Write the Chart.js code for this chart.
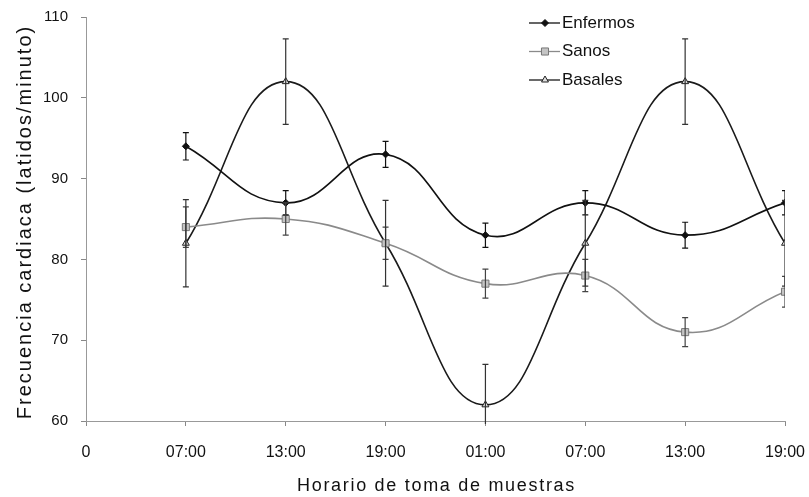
<!DOCTYPE html>
<html lang="es">
<head>
    <meta charset="UTF-8">
    <title>Frecuencia cardiaca</title>
    <script src="https://cdn.jsdelivr.net/npm/chart.js"></script>
    <style>
        html, body { margin: 0; padding: 0; background: #fff; }
        .chart-box { width: 809px; height: 497px; }
    </style>
</head>
<body>
    <div class="chart-box"><canvas id="hrChart"></canvas></div>

    <script>
        const xTickLabels = ['0', '07:00', '13:00', '19:00', '01:00', '07:00', '13:00', '19:00'];
        const seriesNames = ['Enfermos', 'Sanos', 'Basales'];
        const xTitle = 'Horario de toma de muestras';
        const yTitle = 'Frecuencia cardiaca (latidos/minuto)';

        const enfermos = [94, 87, 93, 83, 87, 83, 87];
        const enfermosErr = [1.7, 1.5, 1.6, 1.5, 1.5, 1.6, 1.5];
        const sanos = [84, 85, 82, 77, 78, 71, 76];
        const sanosErr = [2.5, 2, 2, 1.8, 2, 1.8, 1.9];
        const basales = [82, 102, 82, 62, 82, 102, 82];
        const basalesErr = [5.4, 5.3, 5.3, 5, 5.3, 5.3, 5.3];

        const FONT = '"Liberation Sans", Arial, sans-serif';
        Chart.defaults.font.family = FONT;

        const toPoints = values => values.map((v, i) => ({ x: i + 1, y: v }));

        // vertical error bars with small caps
        const errorBars = {
            id: 'errorBars',
            afterDatasetsDraw(chart) {
                const { ctx, chartArea, scales: { y } } = chart;
                ctx.save();
                ctx.beginPath();
                ctx.rect(chartArea.left, chartArea.top - 2, chartArea.width, chartArea.height + 5);
                ctx.clip();
                chart.data.datasets.forEach((ds, i) => {
                    const meta = chart.getDatasetMeta(i);
                    ctx.strokeStyle = ds.errColor;
                    ctx.lineWidth = 1.2;
                    meta.data.forEach((pt, j) => {
                        const v = ds.data[j].y, e = ds.errors[j];
                        const top = y.getPixelForValue(v + e);
                        const bot = y.getPixelForValue(v - e);
                        ctx.beginPath();
                        ctx.moveTo(pt.x, top); ctx.lineTo(pt.x, bot);
                        ctx.moveTo(pt.x - 3, top); ctx.lineTo(pt.x + 3, top);
                        ctx.moveTo(pt.x - 3, bot); ctx.lineTo(pt.x + 3, bot);
                        ctx.stroke();
                    });
                });
                ctx.restore();
            }
        };

        // legend (line + marker) and the spaced-out axis titles
        const decorations = {
            id: 'decorations',
            afterDraw(chart) {
                const { ctx, chartArea } = chart;
                ctx.save();
                chart.data.datasets.forEach((ds, i) => {
                    const yy = 23 + i * 28.5;
                    ctx.strokeStyle = ds.borderColor;
                    ctx.lineWidth = 1.3;
                    ctx.beginPath();
                    ctx.moveTo(529, yy);
                    ctx.lineTo(560, yy);
                    ctx.stroke();
                    ctx.fillStyle = ds.pointBackgroundColor;
                    ctx.strokeStyle = ds.pointBorderColor;
                    ctx.lineWidth = 1;
                    Chart.helpers.drawPoint(ctx, { pointStyle: ds.pointStyle, radius: ds.pointRadius, borderWidth: 1, rotation: 0 }, 545, yy);
                    ctx.fillStyle = '#111';
                    ctx.font = '17px ' + FONT;
                    ctx.textBaseline = 'middle';
                    ctx.fillText(ds.label, 562, yy);
                });

                ctx.fillStyle = '#111';
                ctx.textAlign = 'center';
                ctx.textBaseline = 'middle';

                ctx.font = '18px ' + FONT;
                ctx.letterSpacing = '1.7px';
                ctx.fillText(xTitle, (chartArea.left + chartArea.right) / 2 + 1, 486);

                ctx.font = '20px ' + FONT;
                ctx.letterSpacing = '2px';
                ctx.translate(25, (chartArea.top + chartArea.bottom) / 2 + 3);
                ctx.rotate(-Math.PI / 2);
                ctx.fillText(yTitle, 0, 0);
                ctx.restore();
            }
        };

        new Chart(document.getElementById('hrChart'), {
            type: 'line',
            data: {
                datasets: [
                    {
                        label: seriesNames[0],
                        data: toPoints(enfermos),
                        errors: enfermosErr,
                        errColor: '#111',
                        borderColor: '#111',
                        borderWidth: 1.6,
                        tension: 0.45,
                        pointStyle: 'rectRot',
                        pointRadius: 3.5,
                        pointBackgroundColor: '#111',
                        pointBorderColor: '#111',
                        pointBorderWidth: 1
                    },
                    {
                        label: seriesNames[1],
                        data: toPoints(sanos),
                        errors: sanosErr,
                        errColor: '#444',
                        borderColor: '#8a8a8a',
                        borderWidth: 1.6,
                        tension: 0.45,
                        pointStyle: 'rect',
                        pointRadius: 5,
                        pointBackgroundColor: '#c4c4c4',
                        pointBorderColor: '#777',
                        pointBorderWidth: 1
                    },
                    {
                        label: seriesNames[2],
                        data: toPoints(basales),
                        errors: basalesErr,
                        errColor: '#333',
                        borderColor: '#1a1a1a',
                        borderWidth: 1.6,
                        tension: 0.45,
                        pointStyle: 'triangle',
                        pointRadius: 4,
                        pointBackgroundColor: '#e0e0e0',
                        pointBorderColor: '#222',
                        pointBorderWidth: 1
                    }
                ]
            },
            options: {
                responsive: true,
                maintainAspectRatio: false,
                animation: false,
                layout: { padding: { top: 17, right: 24, left: 0, bottom: 0 } },
                plugins: {
                    legend: { display: false },
                    tooltip: { enabled: false }
                },
                scales: {
                    x: {
                        type: 'linear',
                        min: 0,
                        max: 7,
                        afterFit(scale) {
                            scale.height = 76;
                            scale.paddingLeft = 0;
                            scale.paddingRight = 0;
                        },
                        ticks: {
                            stepSize: 1,
                            autoSkip: false,
                            maxRotation: 0,
                            callback: v => xTickLabels[v],
                            color: '#111',
                            font: { size: 16 },
                            padding: 17
                        },
                        grid: { display: true, drawOnChartArea: false, drawTicks: true, tickLength: 5, color: '#888' },
                        border: { display: true, color: '#999', dash: [2, 4] }
                    },
                    y: {
                        min: 60,
                        max: 110,
                        afterFit(scale) {
                            scale.width = 86;
                            scale.paddingTop = 0;
                            scale.paddingBottom = 0;
                        },
                        ticks: {
                            stepSize: 10,
                            color: '#111',
                            font: { size: 15 },
                            padding: 13
                        },
                        grid: { display: true, drawOnChartArea: false, drawTicks: true, tickLength: 5, color: '#888' },
                        border: { display: true, color: '#999', dash: [2, 4] }
                    }
                }
            },
            plugins: [errorBars, decorations]
        });
    </script>
</body>
</html>
